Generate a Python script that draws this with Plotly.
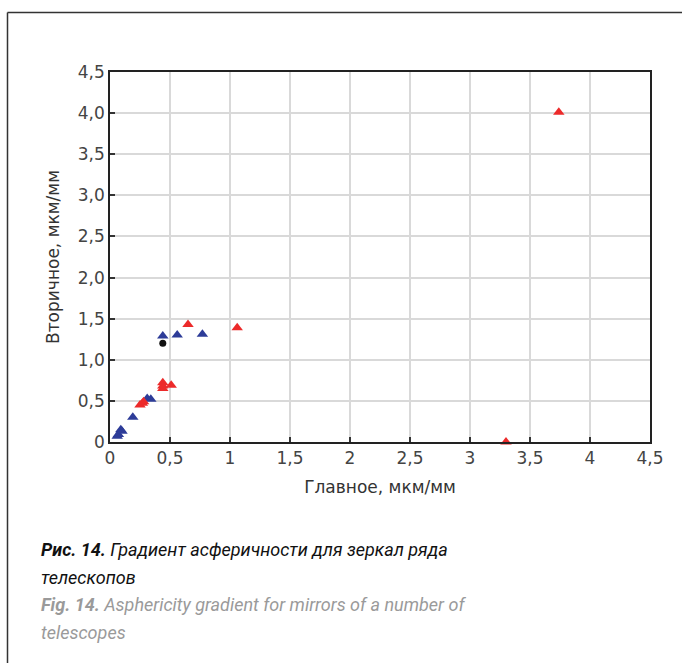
import plotly.graph_objects as go

# Data
blue_x = [0.44, 0.56, 0.77, 0.31, 0.34, 0.19, 0.09, 0.07, 0.06, 0.10]
blue_y = [1.29, 1.30, 1.31, 0.53, 0.52, 0.30, 0.15, 0.09, 0.07, 0.13]

red_x = [0.65, 1.06, 0.44, 0.44, 0.44, 0.51, 0.25, 0.28, 0.27, 3.74, 3.30]
red_y = [1.43, 1.39, 0.72, 0.68, 0.65, 0.69, 0.45, 0.49, 0.47, 4.01, 0.0]

black_x = [0.44]
black_y = [1.20]

x_tickvals = [0, 0.5, 1, 1.5, 2, 2.5, 3, 3.5, 4, 4.5]
x_ticktext = ["0", "0,5", "1", "1,5", "2", "2,5", "3", "3,5", "4", "4,5"]
y_tickvals = [0, 0.5, 1, 1.5, 2, 2.5, 3, 3.5, 4, 4.5]
y_ticktext = ["0", "0,5", "1,0", "1,5", "2,0", "2,5", "3,0", "3,5", "4,0", "4,5"]

x_title = "Главное, мкм/мм"
y_title = "Вторичное, мкм/мм"
caption_lines = [
    ("<b><i>Рис. 14.</i></b><i> Градиент асферичности для зеркал ряда</i>", "#111111"),
    ("<i>телескопов</i>", "#111111"),
    ("<b><i>Fig. 14.</i></b><i> Asphericity gradient for mirrors of a number of</i>", "#9a9a9a"),
    ("<i>telescopes</i>", "#9a9a9a"),
]
caption_centers = [549, 577, 604, 632]

W, H = 682, 663
L, R, T, B = 110, 32, 72, 221
pw, ph = W - L - R, H - T - B

def px(x):
    return (x - L) / pw

def py(y):
    return (H - B - y) / ph

fig = go.Figure()
fig.add_trace(go.Scatter(x=blue_x, y=blue_y, mode="markers",
                         marker=dict(symbol="triangle-up", size=10, color="#2d3c98"),
                         cliponaxis=False))
fig.add_trace(go.Scatter(x=red_x, y=red_y, mode="markers",
                         marker=dict(symbol="triangle-up", size=10, color="#ec2a2a"),
                         cliponaxis=False))
fig.add_trace(go.Scatter(x=black_x, y=black_y, mode="markers",
                         marker=dict(symbol="circle", size=7, color="#111111"),
                         cliponaxis=False))

axis_common = dict(
    showgrid=True, gridcolor="#d9d9d9", gridwidth=1.5,
    showline=True, linecolor="#222222", linewidth=1.5, mirror=True,
    ticks="inside", ticklen=5, tickcolor="#333333", tickwidth=1.5,
    zeroline=False,
    tickfont=dict(family="DejaVu Sans", size=17, color="#444444"),
)

fig.update_layout(
    width=W, height=H,
    margin=dict(l=L, r=R, t=T, b=B),
    paper_bgcolor="white", plot_bgcolor="white",
    showlegend=False,
    xaxis=dict(range=[0, 4.5], tickvals=x_tickvals, ticktext=x_ticktext,
               title=dict(text=x_title, standoff=14,
                          font=dict(family="DejaVu Sans", size=17, color="#333333")),
               **axis_common),
    yaxis=dict(range=[0, 4.5], tickvals=y_tickvals, ticktext=y_ticktext,
               title=dict(text=y_title, standoff=14,
                          font=dict(family="DejaVu Sans", size=17, color="#333333")),
               **axis_common),
)

# Outer frame (left and top edges visible)
frame_color = "#333333"
fig.add_shape(type="line", xref="paper", yref="paper",
              x0=px(7.5), x1=px(W + 5), y0=py(12.5), y1=py(12.5),
              line=dict(color=frame_color, width=1.5))
fig.add_shape(type="line", xref="paper", yref="paper",
              x0=px(7.5), x1=px(7.5), y0=py(12.5), y1=py(H + 5),
              line=dict(color=frame_color, width=1.5))

cap_font = "Roboto, sans-serif"
for (txt, col), cy in zip(caption_lines, caption_centers):
    fig.add_annotation(xref="paper", yref="paper", x=px(39), y=py(cy),
                       xanchor="left", yanchor="middle", align="left", showarrow=False,
                       text=txt, font=dict(family=cap_font, size=18, color=col))

fig.write_html("out.html")
